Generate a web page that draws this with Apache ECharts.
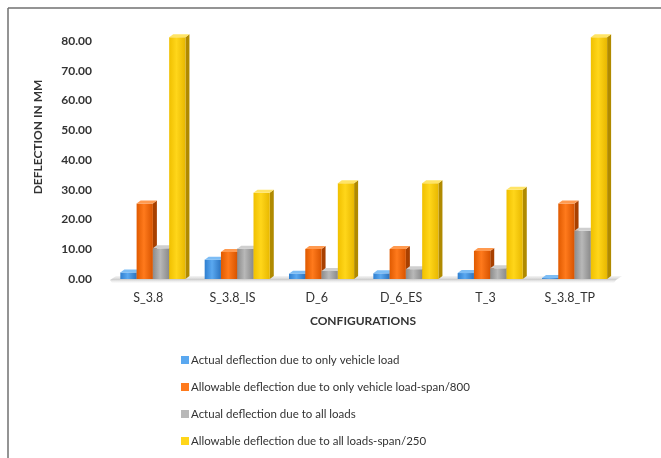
<!DOCTYPE html>
<html>
<head>
<meta charset="utf-8">
<script src="https://cdn.jsdelivr.net/npm/echarts@6/dist/echarts.min.js"></script>
<style>
  html, body { margin: 0; padding: 0; background: #fff; }
  #chart { width: 661px; height: 458px; }
</style>
</head>
<body>
<div id="chart"></div>
<script>
// Bridge configurations and their deflections (mm)
const categories = ['S_3.8', 'S_3.8_IS', 'D_6', 'D_6_ES', 'T_3', 'S_3.8_TP'];
const actualVehicle = [2.2, 6.5, 1.8, 1.9, 2.0, 0.3];
const allowableVehicle = [25.4, 9.1, 10.1, 10.1, 9.4, 25.4];
const actualAll = [10.3, 10.2, 2.7, 3.3, 3.6, 16.2];
const allowableAll = [81.2, 29.0, 32.2, 32.2, 30.0, 81.2];
const yTicks = [0, 10, 20, 30, 40, 50, 60, 70, 80];

const seriesNames = [
  'Actual deflection due to only vehicle load',
  'Allowable deflection due to only vehicle load-span/800',
  'Actual deflection due to all loads',
  'Allowable deflection due to all loads-span/250'
];
const seriesValues = [actualVehicle, allowableVehicle, actualAll, allowableAll];

// front / side / top shades for each series
const palette = [
  { front: ['#2f7fd0', '#5aa8f0', '#2c74c0'], side: '#1f5a9a', top: '#7dbdf5' },
  { front: ['#e05a00', '#ff7a1c', '#d85400'], side: '#a84000', top: '#ff9a50' },
  { front: ['#8c8c8c', '#b8b8b8', '#8a8a8a'], side: '#666666', top: '#cfcfcf' },
  { front: ['#f0c000', '#ffd61a', '#e8b800'], side: '#b08a00', top: '#ffe466' }
];

const DEPTH = 4, RISE = 3;

function bar3d(k) {
  return function (params, api) {
    const idx = api.value(0);
    const val = api.value(1);
    const base = api.coord([idx, 0]);
    const top = api.coord([idx, val]);
    const band = api.size([1, 0])[0];
    const w = band * 0.193;
    const x0 = base[0] - band * 0.33 + k * w;
    const yb = base[1], yt = top[1];
    const c = palette[k];
    return {
      type: 'group',
      children: [
        {
          type: 'polygon',
          shape: { points: [[x0 + w, yt], [x0 + w + DEPTH, yt - RISE], [x0 + w + DEPTH, yb - RISE], [x0 + w, yb]] },
          style: { fill: c.side }
        },
        {
          type: 'rect',
          shape: { x: x0, y: yt, width: w, height: yb - yt },
          style: {
            fill: new echarts.graphic.LinearGradient(0, 0, 1, 0, [
              { offset: 0, color: c.front[0] },
              { offset: 0.45, color: c.front[1] },
              { offset: 1, color: c.front[2] }
            ])
          }
        },
        {
          type: 'polygon',
          shape: { points: [[x0, yt], [x0 + DEPTH, yt - RISE], [x0 + w + DEPTH, yt - RISE], [x0 + w, yt]] },
          style: { fill: c.top }
        }
      ]
    };
  };
}

// soft floor shadow along the category axis
function floor(params, api) {
  const n = categories.length;
  const a = api.coord([0, 0]);
  const band = api.size([1, 0])[0];
  const xs = a[0] - band * 0.5 + 4;
  const xe = a[0] + band * (n - 0.5) + 4;
  const y = a[1];
  return {
    type: 'polygon',
    shape: { points: [[xs, y + 1], [xs + 6, y - 3], [xe + 6, y - 3], [xe, y + 1], [xe - 2, y + 4], [xs + 2, y + 4]] },
    style: {
      fill: new echarts.graphic.LinearGradient(0, 0, 0, 1, [
        { offset: 0, color: 'rgba(150,150,150,0.10)' },
        { offset: 0.5, color: 'rgba(120,120,120,0.35)' },
        { offset: 1, color: 'rgba(200,200,200,0.05)' }
      ])
    }
  };
}

const series = [{
  type: 'custom',
  name: 'floor',
  renderItem: floor,
  data: [[0, 0]],
  encode: { x: 0, y: 1 },
  silent: true,
  z: 1
}];
seriesValues.forEach(function (vals, k) {
  series.push({
    type: 'custom',
    name: seriesNames[k],
    renderItem: bar3d(k),
    itemStyle: { color: palette[k].front[1] },
    encode: { x: 0, y: 1 },
    data: vals.map(function (v, i) { return [i, v]; }),
    z: 2 + k
  });
});

const chart = echarts.init(document.getElementById('chart'));
chart.setOption({
  animation: false,
  backgroundColor: '#ffffff',
  textStyle: { fontFamily: 'Lato' },
  grid: { left: 106, right: 49, top: 26, bottom: 179 },
  xAxis: {
    type: 'category',
    data: categories,
    axisLine: { show: false },
    axisTick: { show: false },
    axisLabel: { color: '#333', fontSize: 12.5, margin: 12, fontFamily: 'Lato' }
  },
  yAxis: {
    type: 'value',
    min: 0,
    max: 85,
    interval: 10,
    splitLine: { show: false },
    axisLine: { show: false },
    axisTick: { show: false },
    axisLabel: {
      color: '#333',
      fontSize: 12,
      fontWeight: 'bold',
      margin: 14,
      fontFamily: 'Lato',
      formatter: function (v) { return yTicks.indexOf(v) >= 0 ? v.toFixed(2) : ''; }
    }
  },
  legend: {
    data: seriesNames,
    orient: 'vertical',
    left: 176,
    top: 349,
    itemGap: 15,
    itemWidth: 8,
    itemHeight: 8,
    icon: 'rect',
    textStyle: { color: '#333', fontSize: 11.5, fontFamily: 'Lato', padding: [0, 0, 0, -3] }
  },
  graphic: [
    { type: 'line', shape: { x1: 8, y1: 8, x2: 661, y2: 8 }, style: { stroke: '#707070', lineWidth: 1.5 } },
    { type: 'line', shape: { x1: 8, y1: 8, x2: 8, y2: 458 }, style: { stroke: '#707070', lineWidth: 1.5 } },
    {
      type: 'text', x: 38, y: 137, rotation: Math.PI / 2,
      style: { text: 'DEFLECTION IN MM', fill: '#333', font: 'bold 12px Lato', textAlign: 'center', textVerticalAlign: 'middle' }
    },
    {
      type: 'text', x: 363, y: 321,
      style: { text: 'CONFIGURATIONS', fill: '#333', font: 'bold 12px Lato', textAlign: 'center', textVerticalAlign: 'middle' }
    }
  ],
  series: series
});
</script>
</body>
</html>
